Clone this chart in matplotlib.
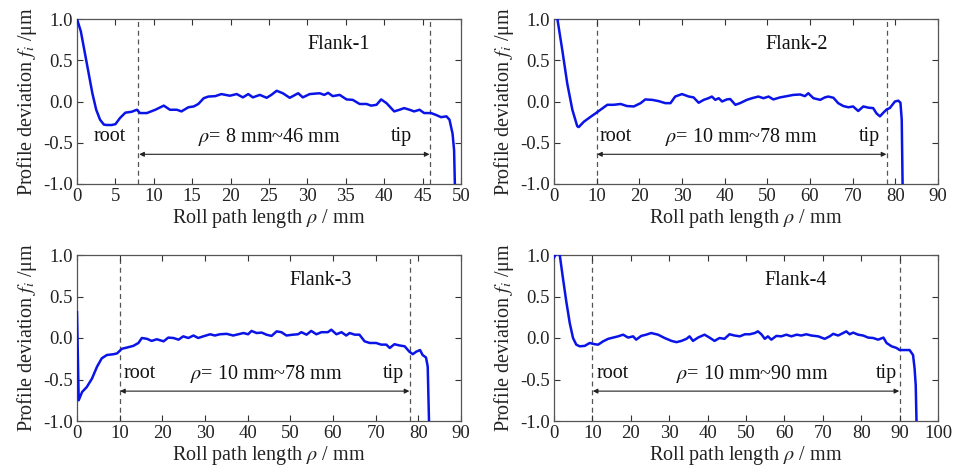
import matplotlib
matplotlib.use("Agg")
import matplotlib.pyplot as plt

plt.rcParams['font.family'] = ['Liberation Serif', 'DejaVu Serif']
plt.rcParams['mathtext.fontset'] = 'stix'
plt.rcParams['axes.unicode_minus'] = False

# ---------------- data ----------------
rho1 = [0, 0.5, 1.0, 1.5, 2.0, 2.5, 3.0, 3.5, 3.9, 4.5, 5.0, 5.6, 6.3, 7.1, 7.8, 8.2, 9.1, 10.2, 11.3, 12.1,
        13.0, 13.6, 14.5, 15.2, 15.8, 16.5, 17.1, 18.0, 18.8, 19.9, 20.8, 21.6, 22.3, 22.9, 23.8, 24.7,
        25.3, 26.0, 26.8, 27.7, 28.8, 29.4, 30.3, 31.6, 32.2, 32.7, 33.3, 34.2, 35.1, 35.9, 36.8, 37.7,
        38.3, 39.0, 39.6, 40.3, 40.7, 41.3, 42.0, 42.6, 43.3, 43.9, 44.6, 45.2, 46.1, 46.8, 47.4, 48.1,
        48.5, 48.9, 49.1, 49.2, 49.25]
f1 = [1.0, 0.85, 0.6, 0.35, 0.1, -0.1, -0.22, -0.28, -0.285, -0.285, -0.275, -0.2, -0.135, -0.125, -0.1,
      -0.14, -0.14, -0.1, -0.05, -0.1, -0.1, -0.12, -0.07, -0.06, -0.03, 0.04, 0.06, 0.065, 0.09, 0.07,
      0.09, 0.05, 0.09, 0.05, 0.08, 0.045, 0.08, 0.13, 0.1, 0.045, 0.1, 0.05, 0.09, 0.1, 0.08, 0.105,
      0.065, 0.08, 0.025, 0.02, -0.03, -0.03, -0.05, -0.04, 0.025, -0.02, -0.06, -0.12, -0.1, -0.08,
      -0.1, -0.12, -0.1, -0.14, -0.14, -0.165, -0.19, -0.18, -0.22, -0.39, -0.59, -1.0, -1.3]

rho2 = [0.5, 0.8, 1.95, 3.1, 4.3, 5.45, 5.8, 7.0, 8.6, 9.7, 10.9, 12.5, 14.0, 15.6, 17.1, 18.7, 20.3,
        21.4, 23.0, 24.5, 26.1, 27.3, 28.4, 30.0, 31.6, 32.7, 33.9, 35.1, 36.2, 37.0, 37.8, 38.6, 39.4,
        40.5, 41.3, 42.5, 43.6, 45.2, 46.4, 47.9, 49.1, 50.3, 51.4, 53.0, 54.6, 56.1, 57.7, 58.8, 59.6,
        60.8, 62.4, 63.5, 64.3, 65.5, 66.6, 67.8, 69.0, 70.1, 71.3, 72.5, 73.7, 74.8, 75.6, 76.4, 77.2,
        78.0, 78.7, 79.9, 80.7, 81.2, 81.5, 81.7, 81.75]
f2 = [1.2, 1.0, 0.62, 0.22, -0.1, -0.3, -0.31, -0.245, -0.185, -0.145, -0.1, -0.04, -0.04, -0.03,
      -0.055, -0.06, -0.02, 0.025, 0.02, 0.005, -0.02, -0.02, 0.06, 0.09, 0.06, 0.05, -0.015, 0.02,
      0.04, 0.06, 0.02, 0.04, 0.0, 0.025, 0.03, -0.04, -0.02, 0.02, 0.04, 0.06, 0.04, 0.06, 0.025,
      0.05, 0.065, 0.08, 0.085, 0.065, 0.1, 0.04, 0.02, 0.05, 0.06, 0.045, -0.02, -0.055, -0.07,
      -0.06, -0.115, -0.06, -0.075, -0.08, -0.145, -0.18, -0.135, -0.095, -0.08, 0.0, 0.01, -0.015,
      -0.22, -1.0, -1.3]

rho3 = [0.0, 0.4, 1.2, 2.3, 3.5, 4.7, 5.8, 7.0, 8.6, 9.4, 10.5, 11.7, 13.2, 14.4, 15.2, 16.4, 17.5,
        18.7, 20.3, 21.4, 22.6, 23.8, 24.9, 26.1, 27.3, 28.4, 29.6, 31.2, 32.3, 33.5, 35.1, 36.6, 37.8,
        39.0, 40.1, 40.9, 42.1, 43.3, 44.4, 45.6, 46.8, 47.9, 49.1, 50.6, 51.8, 52.6, 53.8, 54.9, 56.1,
        57.3, 58.8, 59.6, 60.8, 62.0, 63.1, 63.9, 65.1, 66.2, 67.4, 68.6, 70.1, 71.3, 72.5, 73.3, 74.4,
        75.6, 76.8, 77.9, 78.7, 79.5, 80.4, 81.0, 81.8, 82.2, 82.5, 82.55]
f3 = [0.31, -0.75, -0.65, -0.59, -0.49, -0.345, -0.245, -0.205, -0.195, -0.185, -0.13, -0.115, -0.095,
      -0.06, 0.0, -0.01, -0.035, -0.015, -0.04, 0.005, 0.0, -0.02, 0.02, 0.0, 0.03, 0.0, 0.02, 0.045,
      0.03, 0.045, 0.05, 0.03, 0.045, 0.06, 0.045, 0.085, 0.06, 0.065, 0.04, 0.025, 0.08, 0.07, 0.03,
      0.04, 0.045, 0.07, 0.04, 0.085, 0.045, 0.07, 0.07, 0.1, 0.045, 0.07, 0.03, 0.06, 0.04, 0.04,
      -0.04, -0.06, -0.06, -0.08, -0.08, -0.12, -0.075, -0.09, -0.1, -0.165, -0.195, -0.165, -0.145,
      -0.205, -0.235, -0.345, -1.0, -1.3]

rho4 = [0.0, 0.35, 0.9, 1.5, 2.3, 3.2, 4.1, 4.95, 5.8, 6.7, 8.0, 9.3, 10.6, 11.5, 12.8, 14.1, 15.4,
        16.7, 18.0, 19.3, 20.6, 21.4, 22.7, 24.0, 25.3, 27.1, 28.8, 30.6, 31.9, 33.2, 34.5, 35.3, 36.2,
        37.5, 39.2, 40.5, 41.8, 43.1, 44.4, 45.7, 47.0, 48.4, 49.7, 51.0, 52.3, 53.1, 54.0, 54.9, 55.7,
        56.6, 57.9, 59.2, 60.5, 61.8, 63.2, 64.4, 65.7, 67.0, 68.8, 70.5, 71.8, 72.7, 74.0, 75.3, 76.1,
        77.0, 77.9, 79.2, 80.5, 81.8, 83.1, 84.4, 85.8, 86.6, 87.9, 89.2, 90.0, 91.3, 92.6, 93.5, 93.9,
        94.2, 94.4, 94.45]
f4 = [0.97, 1.0, 1.03, 1.0, 0.73, 0.44, 0.18, 0.0, -0.08, -0.1, -0.095, -0.06, -0.075, -0.08, -0.04,
      -0.01, 0.005, 0.02, 0.04, 0.005, 0.02, -0.02, 0.025, 0.04, 0.06, 0.04, 0.0, -0.035, -0.05,
      -0.035, -0.01, 0.02, -0.035, 0.005, 0.04, 0.005, -0.035, 0.0, -0.01, 0.045, 0.03, 0.02, 0.045,
      0.045, 0.06, 0.08, 0.045, -0.01, 0.02, -0.02, 0.025, 0.02, 0.04, 0.02, 0.04, 0.03, 0.045, 0.03,
      0.02, -0.01, 0.02, 0.05, 0.03, 0.06, 0.08, 0.045, 0.065, 0.04, 0.03, 0.005, 0.0, -0.02, 0.005,
      -0.06, -0.1, -0.12, -0.145, -0.145, -0.145, -0.205, -0.365, -0.57, -1.0, -1.3]

flank_names = ["Flank-1", "Flank-2", "Flank-3", "Flank-4"]
root_rho = [8, 10, 10, 10]
tip_rho = [46, 78, 78, 90]
x_max = [50, 90, 90, 100]
x_step = [5, 10, 10, 10]
range_labels = [r"$\rho$= 8 mm~46 mm", r"$\rho$= 10 mm~78 mm", r"$\rho$= 10 mm~78 mm", r"$\rho$= 10 mm~90 mm"]
y_ticks = [-1.0, -0.5, 0.0, 0.5, 1.0]

# annotation placements (data coords)
flank_x = [30, 49.5, 49.9, 54.9]
root_x = [4.3, 14.4, 14.8, 15.4]
range_x = [25.1, 44.0, 44.4, 51.6]
tip_x = [42.3, 74.0, 74.2, 86.5]

rhos = [rho1, rho2, rho3, rho4]
fs = [f1, f2, f3, f4]

fig = plt.figure(figsize=(9.57, 4.75), dpi=100)
W, H = 957.0, 475.0
boxes = [(77, 19, 461, 184), (554, 19, 938, 184), (77, 255, 461, 421), (554, 255, 938, 421)]

for i in range(4):
    l, t, r, b = boxes[i]
    ax = fig.add_axes([l / W, 1 - b / H, (r - l) / W, (b - t) / H])
    for tr in (root_rho[i], tip_rho[i]):
        ax.axvline(tr, color='#555555', lw=0.9, ls=(0, (4, 3)), zorder=1)
    ax.plot(rhos[i], fs[i], color='#0a14e6', lw=1.8, zorder=3)
    ax.set_xlim(0, x_max[i])
    ax.set_ylim(-1, 1)
    ax.set_xticks(list(range(0, x_max[i] + 1, x_step[i])))
    ax.set_yticks(y_ticks)
    ax.set_yticklabels([f"{v:.1f}" for v in y_ticks])
    ax.tick_params(direction='in', top=True, right=True, length=4, width=0.8,
                   labelsize=13.5, colors='#333333', labelcolor='#222222', pad=3)
    for sp in ax.spines.values():
        sp.set_color('#555555')
        sp.set_linewidth(0.9)
    ax.set_xlabel(r"Roll path length $\rho$ / mm", fontsize=14.5, color='#222222', labelpad=1)
    ax.set_ylabel(r"Profile deviation $f_i$ /μm", fontsize=14.5, color='#222222', labelpad=3)
    ax.text(flank_x[i], 0.69, flank_names[i], fontsize=14.5, ha='left', va='center', color='#111111')
    ax.text(root_x[i], -0.43, "root", fontsize=14.5, ha='center', va='center', color='#111111')
    ax.text(range_x[i], -0.43, range_labels[i], fontsize=14.5, ha='center', va='center', color='#111111')
    ax.text(tip_x[i], -0.43, "tip", fontsize=14.5, ha='center', va='center', color='#111111')
    ax.annotate("", xy=(root_rho[i] + 0.1, -0.64), xytext=(tip_rho[i] - 0.1, -0.64),
                arrowprops=dict(arrowstyle='<|-|>', color='#222222', lw=0.8,
                                mutation_scale=7, shrinkA=0, shrinkB=0))

fig.savefig("out.png", dpi=100)
